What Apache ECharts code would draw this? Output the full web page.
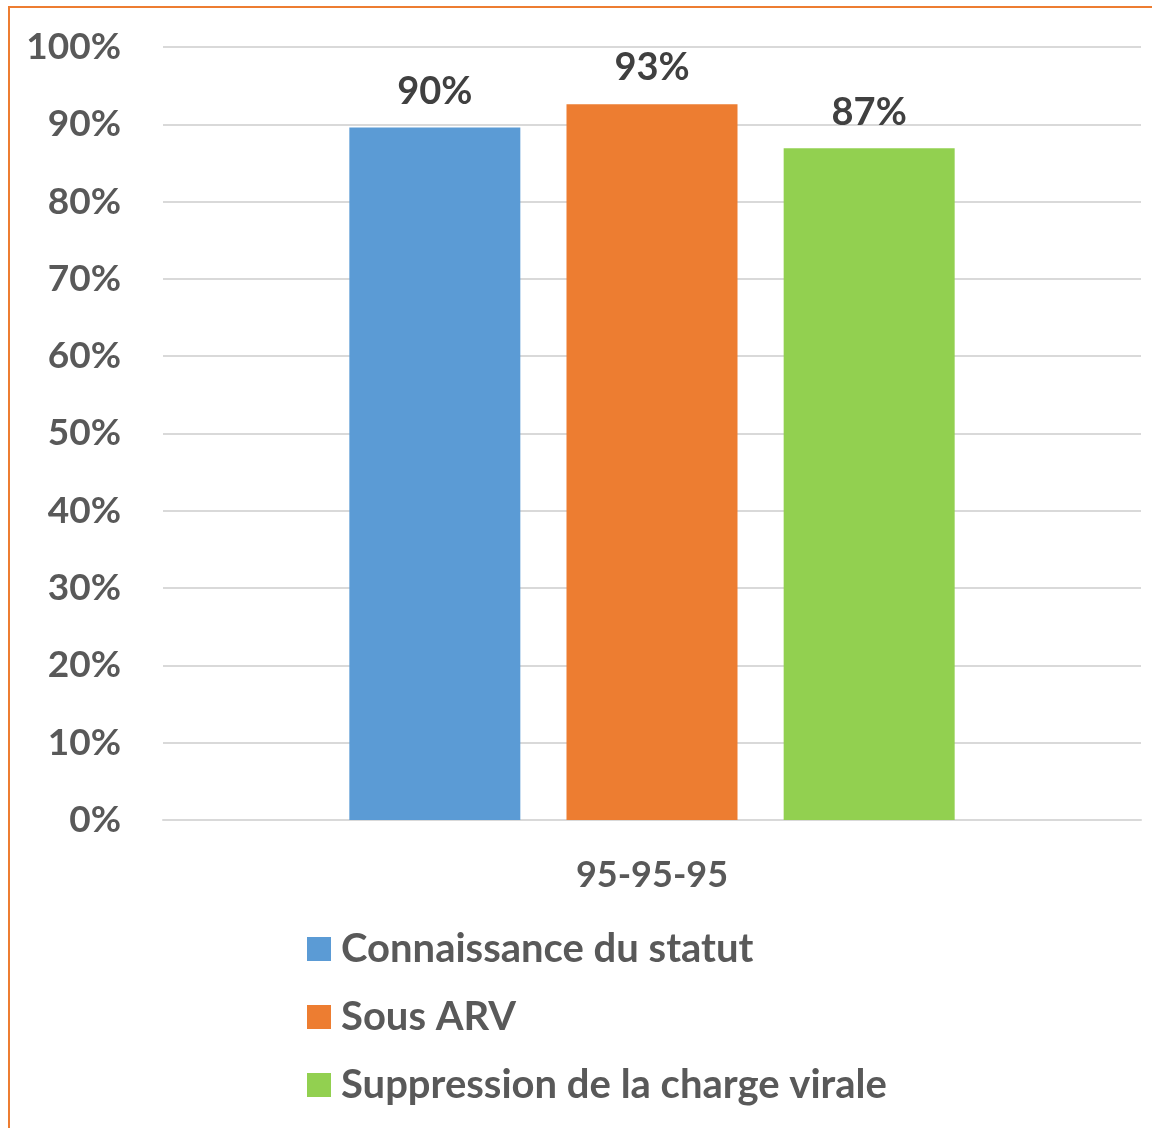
<!DOCTYPE html>
<html>
<head>
<meta charset="utf-8">
<script src="https://cdn.jsdelivr.net/npm/echarts@6/dist/echarts.min.js"></script>
<style>
    html, body { margin: 0; padding: 0; background: #fff; }
    #chart95 { width: 1152px; height: 1128px; }
</style>
</head>
<body>
<div id="chart95"></div>
<script>
// categorie et series
var categories = ['95-95-95'];
var seriesNames = ['Connaissance du statut', 'Sous ARV', 'Suppression de la charge virale'];
var seriesValues = [[89.6], [92.6], [86.9]];
var seriesColors = ['#5B9BD5', '#ED7D31', '#92D050'];
var yTicks = [0, 10, 20, 30, 40, 50, 60, 70, 80, 90, 100];

var fontName = 'Lato, "Open Sans", sans-serif';

var Chart95 = {
    init: function () {
        var series = [];
        for (var i = 0; i < seriesNames.length; i++) {
            series.push({
                name: seriesNames[i],
                type: 'bar',
                barWidth: 171,
                barGap: '27%',
                itemStyle: { color: seriesColors[i] },
                label: {
                    show: true,
                    position: 'top',
                    distance: 17,
                    color: '#404040',
                    fontFamily: fontName,
                    fontWeight: 'bold',
                    fontSize: 38,
                    formatter: function (p) {
                        return Math.round(p.value) + '%';
                    }
                },
                data: seriesValues[i]
            });
        }

        var option = {
            backgroundColor: '#fff',
            animation: false,
            graphic: [{
                type: 'rect',
                shape: { x: 9, y: 7, width: 1200, height: 1200 },
                style: { fill: 'none', stroke: '#ED7D31', lineWidth: 2 },
                z: 100
            }],
            grid: {
                left: 163,
                right: 11,
                top: 47,
                bottom: 308,
                containLabel: false
            },
            legend: {
                orient: 'vertical',
                left: 307,
                top: 929,
                padding: 0,
                itemWidth: 24,
                itemHeight: 24,
                itemGap: 28,
                icon: 'rect',
                textStyle: {
                    color: '#595959',
                    fontFamily: fontName,
                    fontWeight: 'bold',
                    fontSize: 40,
                    padding: [0, 0, 0, 5]
                },
                data: seriesNames
            },
            xAxis: {
                type: 'category',
                data: categories,
                axisLine: { lineStyle: { color: '#D9D9D9', width: 2 } },
                axisTick: { show: false },
                axisLabel: {
                    color: '#595959',
                    fontFamily: fontName,
                    fontWeight: 'bold',
                    fontSize: 36,
                    margin: 37
                }
            },
            yAxis: {
                type: 'value',
                min: yTicks[0],
                max: yTicks[yTicks.length - 1],
                interval: 10,
                axisLine: { show: false },
                axisTick: { show: false },
                splitLine: { lineStyle: { color: '#D9D9D9', width: 2 } },
                axisLabel: {
                    color: '#595959',
                    fontFamily: fontName,
                    fontWeight: 'bold',
                    fontSize: 37,
                    margin: 42,
                    formatter: '{value}%'
                }
            },
            series: series
        };

        var chart = echarts.init(document.getElementById('chart95'));
        chart.setOption(option);
        return chart;
    }
};

Chart95.init();
</script>
</body>
</html>
